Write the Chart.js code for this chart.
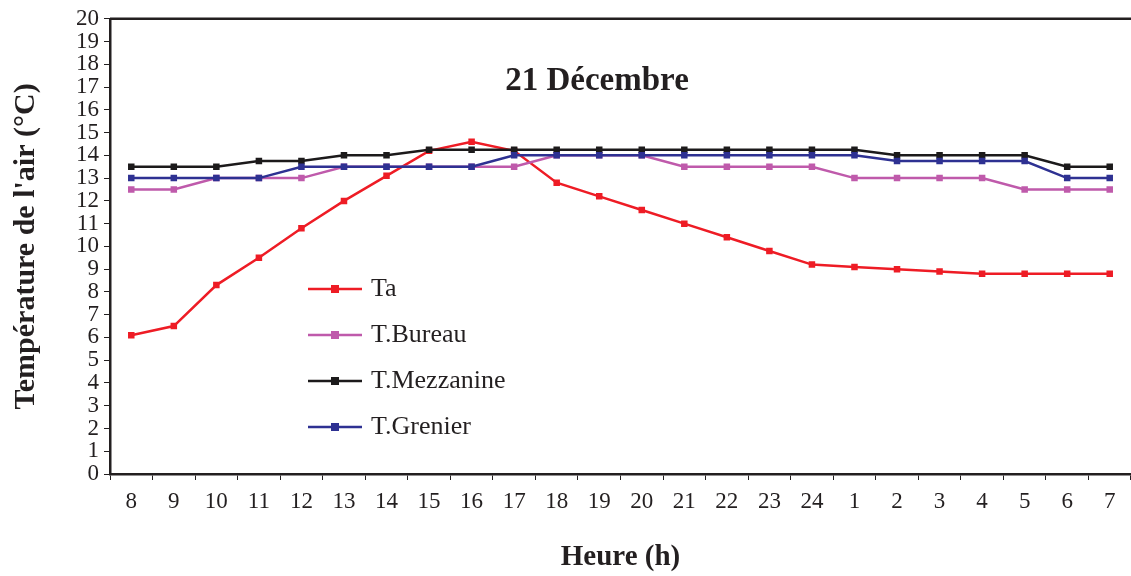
<!DOCTYPE html>
<html>
<head>
<meta charset="utf-8">
<script src="https://cdn.jsdelivr.net/npm/chart.js@4.4.1/dist/chart.umd.min.js"></script>
<style>
  html, body { margin: 0; padding: 0; background: #fff; }
  #wrap { width: 1131px; height: 576px; }
</style>
</head>
<body>
<div id="wrap"><canvas id="chart" width="1131" height="576"></canvas></div>
<script>
// data
const hours = ['8','9','10','11','12','13','14','15','16','17','18','19','20','21','22','23','24','1','2','3','4','5','6','7'];
const ta         = [6.1, 6.5, 8.3, 9.5, 10.8, 12.0, 13.1, 14.2, 14.6, 14.2, 12.8, 12.2, 11.6, 11.0, 10.4, 9.8, 9.2, 9.1, 9.0, 8.9, 8.8, 8.8, 8.8, 8.8];
const tBureau    = [12.5, 12.5, 13, 13, 13, 13.5, 13.5, 13.5, 13.5, 13.5, 14, 14, 14, 13.5, 13.5, 13.5, 13.5, 13, 13, 13, 13, 12.5, 12.5, 12.5];
const tMezzanine = [13.5, 13.5, 13.5, 13.75, 13.75, 14, 14, 14.25, 14.25, 14.25, 14.25, 14.25, 14.25, 14.25, 14.25, 14.25, 14.25, 14.25, 14, 14, 14, 14, 13.5, 13.5];
const tGrenier   = [13, 13, 13, 13, 13.5, 13.5, 13.5, 13.5, 13.5, 14, 14, 14, 14, 14, 14, 14, 14, 14, 13.75, 13.75, 13.75, 13.75, 13, 13];
const seriesNames = ['Ta', 'T.Bureau', 'T.Mezzanine', 'T.Grenier'];
const chartTitle = '21 Décembre';
const xTitle = 'Heure (h)';
const yTitle = "Température de l'air (°C)";

const FONT = '"Liberation Serif", "Times New Roman", serif';
const INK = '#231f20';
const colors = ['#ee1c25', '#bf5aab', '#1c1a1b', '#2e3192'];

// legend symbol: short line with a square in the middle
function legendMarker(color){
  const c = document.createElement('canvas');
  c.width = 54; c.height = 10;
  const g = c.getContext('2d');
  g.strokeStyle = color; g.lineWidth = 2.5;
  g.beginPath(); g.moveTo(0, 5); g.lineTo(54, 5); g.stroke();
  g.fillStyle = color; g.fillRect(23, 1, 8, 8);
  return c;
}

function makeSet(label, values, color, order){
  return {
    label: label, data: values, order: order,
    borderColor: color, backgroundColor: color,
    borderWidth: 2.5, tension: 0,
    pointStyle: 'rect', pointRadius: 4.6, pointBorderWidth: 0,
    pointBackgroundColor: color
  };
}

// legend placement, top frame line + chart title
const decor = {
  id: 'decor',
  afterLayout(chart){
    const lg = chart.legend;
    if(!lg) return;
    const w = lg.width, h = lg.height;
    lg.left = 292; lg.top = 256;
    lg.right = lg.left + w; lg.bottom = lg.top + h;
  },
  afterDraw(chart){
    const ctx = chart.ctx, a = chart.chartArea;
    ctx.save();
    ctx.strokeStyle = INK; ctx.lineWidth = 2.5;
    ctx.beginPath(); ctx.moveTo(a.left, a.top); ctx.lineTo(a.right, a.top); ctx.stroke();
    ctx.fillStyle = INK;
    ctx.font = 'bold 33px ' + FONT;
    ctx.textAlign = 'center'; ctx.textBaseline = 'middle';
    ctx.fillText(chartTitle, 597, 81);
    ctx.restore();
  }
};

new Chart(document.getElementById('chart').getContext('2d'), {
  type: 'line',
  data: {
    labels: hours,
    datasets: [
      makeSet(seriesNames[0], ta, colors[0], 4),
      makeSet(seriesNames[1], tBureau, colors[1], 3),
      makeSet(seriesNames[2], tMezzanine, colors[2], 2),
      makeSet(seriesNames[3], tGrenier, colors[3], 1)
    ]
  },
  options: {
    responsive: false,
    animation: false,
    layout: { autoPadding: false, padding: { top: 16, right: 0, bottom: 0, left: 0 } },
    plugins: {
      tooltip: { enabled: false },
      title: { display: false },
      legend: {
        position: 'chartArea',
        align: 'start',
        labels: {
          usePointStyle: true,
          pointStyleWidth: 46,
          padding: 20,
          color: INK,
          font: { family: FONT, size: 26 },
          generateLabels(chart){
            return chart.data.datasets.map((ds, i) => ({
              text: ds.label,
              fillStyle: ds.borderColor,
              strokeStyle: ds.borderColor,
              lineWidth: 0,
              pointStyle: legendMarker(ds.borderColor),
              fontColor: INK,
              hidden: false,
              datasetIndex: i
            }));
          }
        }
      }
    },
    scales: {
      x: {
        offset: true,
        grid: { offset: true, drawOnChartArea: false, drawTicks: true, tickLength: 6, color: INK, lineWidth: 1 },
        border: { display: true, color: INK, width: 2.5 },
        ticks: { color: INK, font: { family: FONT, size: 23 }, padding: 8, maxRotation: 0, autoSkip: false },
        title: { display: true, text: xTitle, color: INK, font: { family: FONT, size: 29, weight: 'bold' }, padding: { top: 0, bottom: 1 } },
        afterFit(scale){ scale.height = 102; }
      },
      y: {
        min: 0, max: 20,
        grid: { drawOnChartArea: false, drawTicks: true, tickLength: 6, color: INK, lineWidth: 1 },
        border: { display: true, color: INK, width: 2.5 },
        ticks: { stepSize: 1, autoSkip: false, color: INK, font: { family: FONT, size: 23 }, padding: 5 },
        title: { display: true, text: yTitle, color: INK, font: { family: FONT, size: 30, weight: 'bold' }, padding: { top: 8, bottom: 0 } },
        afterFit(scale){ scale.width = 110; }
      }
    }
  },
  plugins: [decor]
});
</script>
</body>
</html>
